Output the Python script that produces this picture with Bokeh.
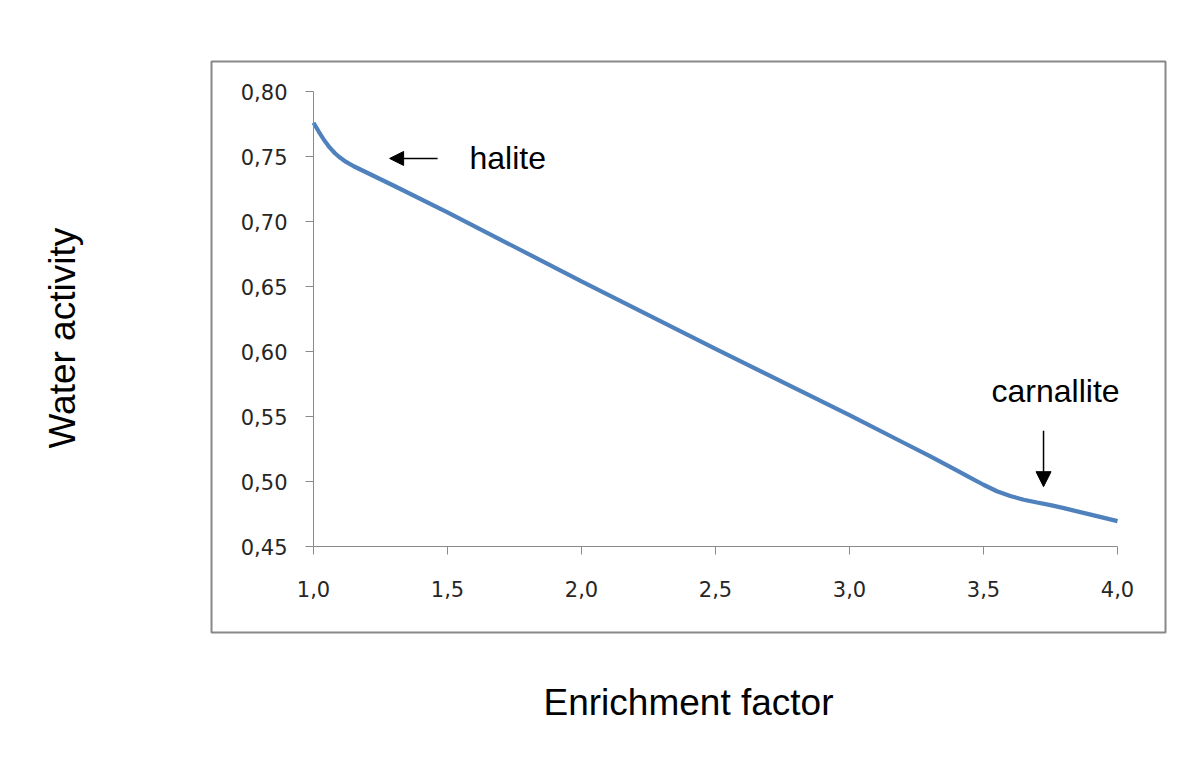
from bokeh.plotting import figure
from bokeh.models import (Range1d, FixedTicker, CustomJSTickFormatter, Label,
                          Arrow, NormalHead, Title)
from bokeh.embed import file_html
from bokeh.resources import INLINE

# ---- data ----
enrichment = [1.00, 1.02, 1.04, 1.06, 1.08, 1.10, 1.12, 1.15, 1.20, 1.30, 1.50,
              2.00, 2.50, 3.00, 3.20, 3.30, 3.40, 3.45, 3.50, 3.55, 3.60, 3.65,
              3.70, 3.75, 3.80, 3.90, 4.00]
water_activity = [0.776, 0.769, 0.7625, 0.757, 0.7525, 0.749, 0.746, 0.7425, 0.7375,
                  0.7275, 0.707, 0.654, 0.602, 0.551, 0.530, 0.5195, 0.5085, 0.503,
                  0.4975, 0.4925, 0.4888, 0.486, 0.4838, 0.4818, 0.4795, 0.4745,
                  0.4695]
x_ticks = [1.0, 1.5, 2.0, 2.5, 3.0, 3.5, 4.0]
y_ticks = [0.45, 0.50, 0.55, 0.60, 0.65, 0.70, 0.75, 0.80]
x_title = "Enrichment factor"
y_title = "Water activity"
annot_halite = "halite"
annot_carnallite = "carnallite"

# axis extents of the plotted area and the chart box around it
X_MIN, X_MAX = 1.0, 4.0
Y_MIN, Y_MAX = 0.45, 0.80
PX_PER_X = 268.0     # pixels per x unit
PX_PER_Y = 1300.0    # pixels per y unit
PAD_L, PAD_R, PAD_T, PAD_B = 102, 48, 30, 86   # box padding around axes (px)

W, H = 1200, 777
BOX_L, BOX_T = 211, 61
BOX_R = BOX_L + PAD_L + (X_MAX - X_MIN) * PX_PER_X + PAD_R
BOX_B = BOX_T + PAD_T + (Y_MAX - Y_MIN) * PX_PER_Y + PAD_B

x_range = Range1d(X_MIN - PAD_L / PX_PER_X, X_MAX + PAD_R / PX_PER_X)
y_range = Range1d(Y_MIN - PAD_B / PX_PER_Y, Y_MAX + PAD_T / PX_PER_Y)

p = figure(width=W, height=H, output_backend="svg", toolbar_location=None,
           x_range=x_range, y_range=y_range,
           min_border_left=BOX_L, min_border_right=int(round(W - BOX_R)),
           min_border_top=BOX_T, min_border_bottom=int(round(H - BOX_B)))
p.title.visible = False
p.outline_line_color = "#888888"
p.outline_line_width = 2
p.xgrid.visible = False
p.ygrid.visible = False
p.background_fill_color = "white"
p.border_fill_color = "white"

axis_col = "#8a8a8a"
for ax in (p.xaxis[0], p.yaxis[0]):
    ax.axis_line_color = axis_col
    ax.axis_line_width = 1
    ax.major_tick_line_color = axis_col
    ax.major_tick_out = 8
    ax.major_tick_in = 0
    ax.minor_tick_line_color = None
    ax.major_label_text_font = "DejaVu Sans"
    ax.major_label_text_font_size = "21px"
    ax.major_label_text_color = "#262626"

p.xaxis[0].fixed_location = Y_MIN
p.yaxis[0].fixed_location = X_MIN
p.xaxis[0].bounds = (X_MIN, X_MAX)
p.yaxis[0].bounds = (Y_MIN, Y_MAX)
p.xaxis[0].ticker = FixedTicker(ticks=x_ticks)
p.yaxis[0].ticker = FixedTicker(ticks=y_ticks)
p.xaxis[0].formatter = CustomJSTickFormatter(code="return tick.toFixed(1).replace('.', ',');")
p.yaxis[0].formatter = CustomJSTickFormatter(code="return tick.toFixed(2).replace('.', ',');")
p.xaxis[0].major_label_standoff = 26
p.yaxis[0].major_label_standoff = 18

p.line(enrichment, water_activity, line_color="#4F81BD", line_width=4.2)

# annotations
p.add_layout(Arrow(end=NormalHead(size=14, fill_color="black", line_color="black"),
                   x_start=1.463, y_start=0.7485, x_end=1.284, y_end=0.7485,
                   line_color="black", line_width=1.5))
p.add_layout(Arrow(end=NormalHead(size=15, fill_color="black", line_color="black"),
                   x_start=3.724, y_start=0.539, x_end=3.724, y_end=0.496,
                   line_color="black", line_width=1.5))
p.add_layout(Label(x=1.582, y=0.7488, text=annot_halite, text_font="Liberation Sans",
                   text_font_size="32px", text_color="black",
                   text_baseline="alphabetic", text_align="left"))
p.add_layout(Label(x=3.769, y=0.5700, text=annot_carnallite, text_font="Liberation Sans",
                   text_font_size="32px", text_color="black",
                   text_baseline="alphabetic", text_align="center"))

# axis titles, outside the chart box
p.add_layout(Title(text=x_title, align="center", text_font="Liberation Sans",
                   text_font_size="37px", text_font_style="normal",
                   text_color="black", standoff=94), "below")
# spacer between the box and the vertical title
p.add_layout(Title(text=" ", text_font="Liberation Sans", text_font_size="36px",
                   standoff=66), "left")
p.add_layout(Title(text=y_title, align="left", offset=184, text_font="Liberation Sans",
                   text_font_size="37px", text_font_style="normal",
                   text_color="black", standoff=40), "left")

open("out.html", "w").write(file_html(p, INLINE))
